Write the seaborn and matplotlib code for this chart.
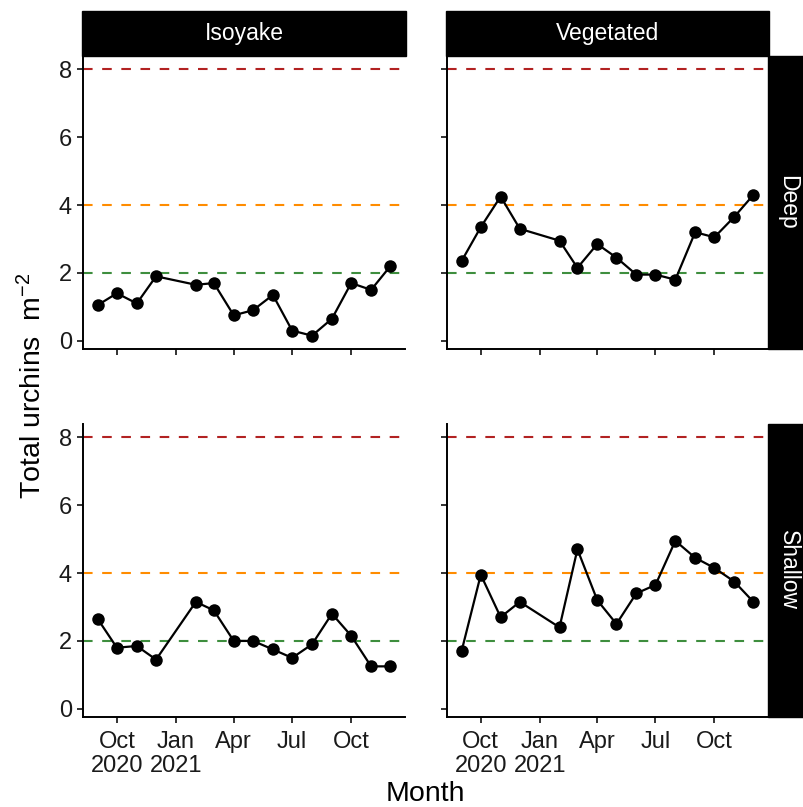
import matplotlib
matplotlib.use("Agg")
import matplotlib.pyplot as plt
import matplotlib.dates as mdates
from matplotlib.patches import Rectangle
import numpy as np
import pandas as pd
import seaborn as sns

# Survey months (first of month)
months = ["2020-09-01", "2020-10-01", "2020-11-01", "2020-12-01",
          "2021-02-01", "2021-03-01", "2021-04-01", "2021-05-01",
          "2021-06-01", "2021-07-01", "2021-08-01", "2021-09-01",
          "2021-10-01", "2021-11-01", "2021-12-01"]

# Total urchin density (individuals per m^2)
isoyake_deep = [1.05, 1.40, 1.10, 1.90, 1.65, 1.70, 0.75, 0.90,
                1.35, 0.30, 0.15, 0.65, 1.70, 1.50, 2.20]
vegetated_deep = [2.35, 3.35, 4.25, 3.30, 2.95, 2.15, 2.85, 2.45,
                  1.95, 1.95, 1.80, 3.20, 3.05, 3.65, 4.30]
isoyake_shallow = [2.65, 1.80, 1.85, 1.45, 3.15, 2.90, 2.00, 2.00,
                   1.75, 1.50, 1.90, 2.80, 2.15, 1.25, 1.25]
vegetated_shallow = [1.70, 3.95, 2.70, 3.15, 2.40, 4.70, 3.20, 2.50,
                     3.40, 3.65, 4.95, 4.45, 4.15, 3.75, 3.15]

sites = ["Isoyake", "Vegetated"]
depths = ["Deep", "Shallow"]

# Reference density thresholds
thresholds = [8, 4, 2]
threshold_colors = ["#B22222", "#FF8C00", "#3E8E3E"]

tick_dates = ["2020-10-01", "2021-01-01", "2021-04-01", "2021-07-01", "2021-10-01"]
tick_labels = ["Oct\n2020", "Jan\n2021", "Apr", "Jul", "Oct"]
y_ticks = [0, 2, 4, 6, 8]

series = {
    ("Isoyake", "Deep"): isoyake_deep,
    ("Vegetated", "Deep"): vegetated_deep,
    ("Isoyake", "Shallow"): isoyake_shallow,
    ("Vegetated", "Shallow"): vegetated_shallow,
}
frames = []
for (site, depth), vals in series.items():
    frames.append(pd.DataFrame({"Month": pd.to_datetime(months), "urchins": vals,
                                "site": site, "depth": depth}))
df = pd.concat(frames, ignore_index=True)

sns.set_theme(style="white")
plt.rcParams["font.family"] = ["Liberation Sans", "DejaVu Sans"]
plt.rcParams["mathtext.fontset"] = "custom"
plt.rcParams["mathtext.rm"] = "Liberation Sans"
plt.rcParams["mathtext.it"] = "Liberation Sans"

W, H = 804, 807
fig = plt.figure(figsize=(W / 100, H / 100), dpi=100)


def rect(l, t, r, b):
    return [l / W, 1 - b / H, (r - l) / W, (b - t) / H]


panels = {
    ("Isoyake", "Deep"): (83, 56, 405, 349),
    ("Vegetated", "Deep"): (447, 56, 768, 349),
    ("Isoyake", "Shallow"): (83, 424, 405, 717),
    ("Vegetated", "Shallow"): (447, 424, 768, 717),
}

dates = pd.to_datetime(months)
span = (dates.max() - dates.min()) * 0.05
xlim = (mdates.date2num(dates.min() - span), mdates.date2num(dates.max() + span))
ymin, ymax = 0.15, 8.0
pad = (ymax - ymin) * 0.05
ylim = (ymin - pad, ymax + pad)

for (site, depth), (l, t, r, b) in panels.items():
    ax = fig.add_axes(rect(l, t, r, b))
    sub = df[(df.site == site) & (df.depth == depth)]
    for yv, c in zip(thresholds, threshold_colors):
        ax.axhline(yv, color=c, lw=1.5, dashes=(4.6, 4.6), zorder=1)
    sns.lineplot(data=sub, x="Month", y="urchins", color="black", lw=1.6,
                 marker="o", markersize=9, markeredgewidth=0, ax=ax, zorder=3)
    ax.set_xlim(*xlim)
    ax.set_ylim(*ylim)
    ax.set_xticks(mdates.date2num(pd.to_datetime(tick_dates)))
    ax.set_yticks(y_ticks)
    ax.set_xlabel("")
    ax.set_ylabel("")
    for s in ["top", "right"]:
        ax.spines[s].set_visible(False)
    for s in ["left", "bottom"]:
        ax.spines[s].set_color("black")
        ax.spines[s].set_linewidth(1.4)
    ax.tick_params(axis="both", length=4, width=1.4, color="#333333",
                   labelsize=17, labelcolor="#1a1a1a", pad=4, direction="out",
                   bottom=True, left=True)
    ax.tick_params(axis="x", pad=6)
    if depth == "Shallow":
        ax.set_xticklabels(tick_labels, linespacing=1.1)
    else:
        ax.set_xticklabels([])
    if site == "Isoyake":
        ax.set_yticklabels([str(v) for v in y_ticks])
    else:
        ax.set_yticklabels([])
    ax.set_facecolor("white")

    # top strip (site)
    if depth == "Deep":
        fig.patches.append(Rectangle(((l - 1) / W, 1 - t / H), (r - l + 2) / W, 45 / H,
                                     transform=fig.transFigure, color="black",
                                     zorder=5))
        fig.text((l + r) / 2 / W, 1 - (t - 22.5) / H, site, color="white",
                 fontsize=16.5, ha="center", va="center", zorder=10)
    # right strip (depth)
    if site == "Vegetated":
        fig.patches.append(Rectangle((r / W, 1 - b / H), (W - r + 5) / W, (b - t) / H,
                                     transform=fig.transFigure, color="black",
                                     zorder=5))
        fig.text((r + 20) / W, 1 - (t + b) / 2 / H, depth, color="white",
                 fontsize=16.5, ha="center", va="center", rotation=-90, zorder=10)

fig.text(33 / W, 1 - 386 / H, r"Total urchins  m$^{-2}$", rotation=90,
         fontsize=20.5, ha="center", va="center", color="black")
fig.text(425 / W, 1 - 794 / H, "Month", fontsize=20.5, ha="center", va="center",
         color="black")

fig.savefig("out.png", dpi=100, facecolor="white")
